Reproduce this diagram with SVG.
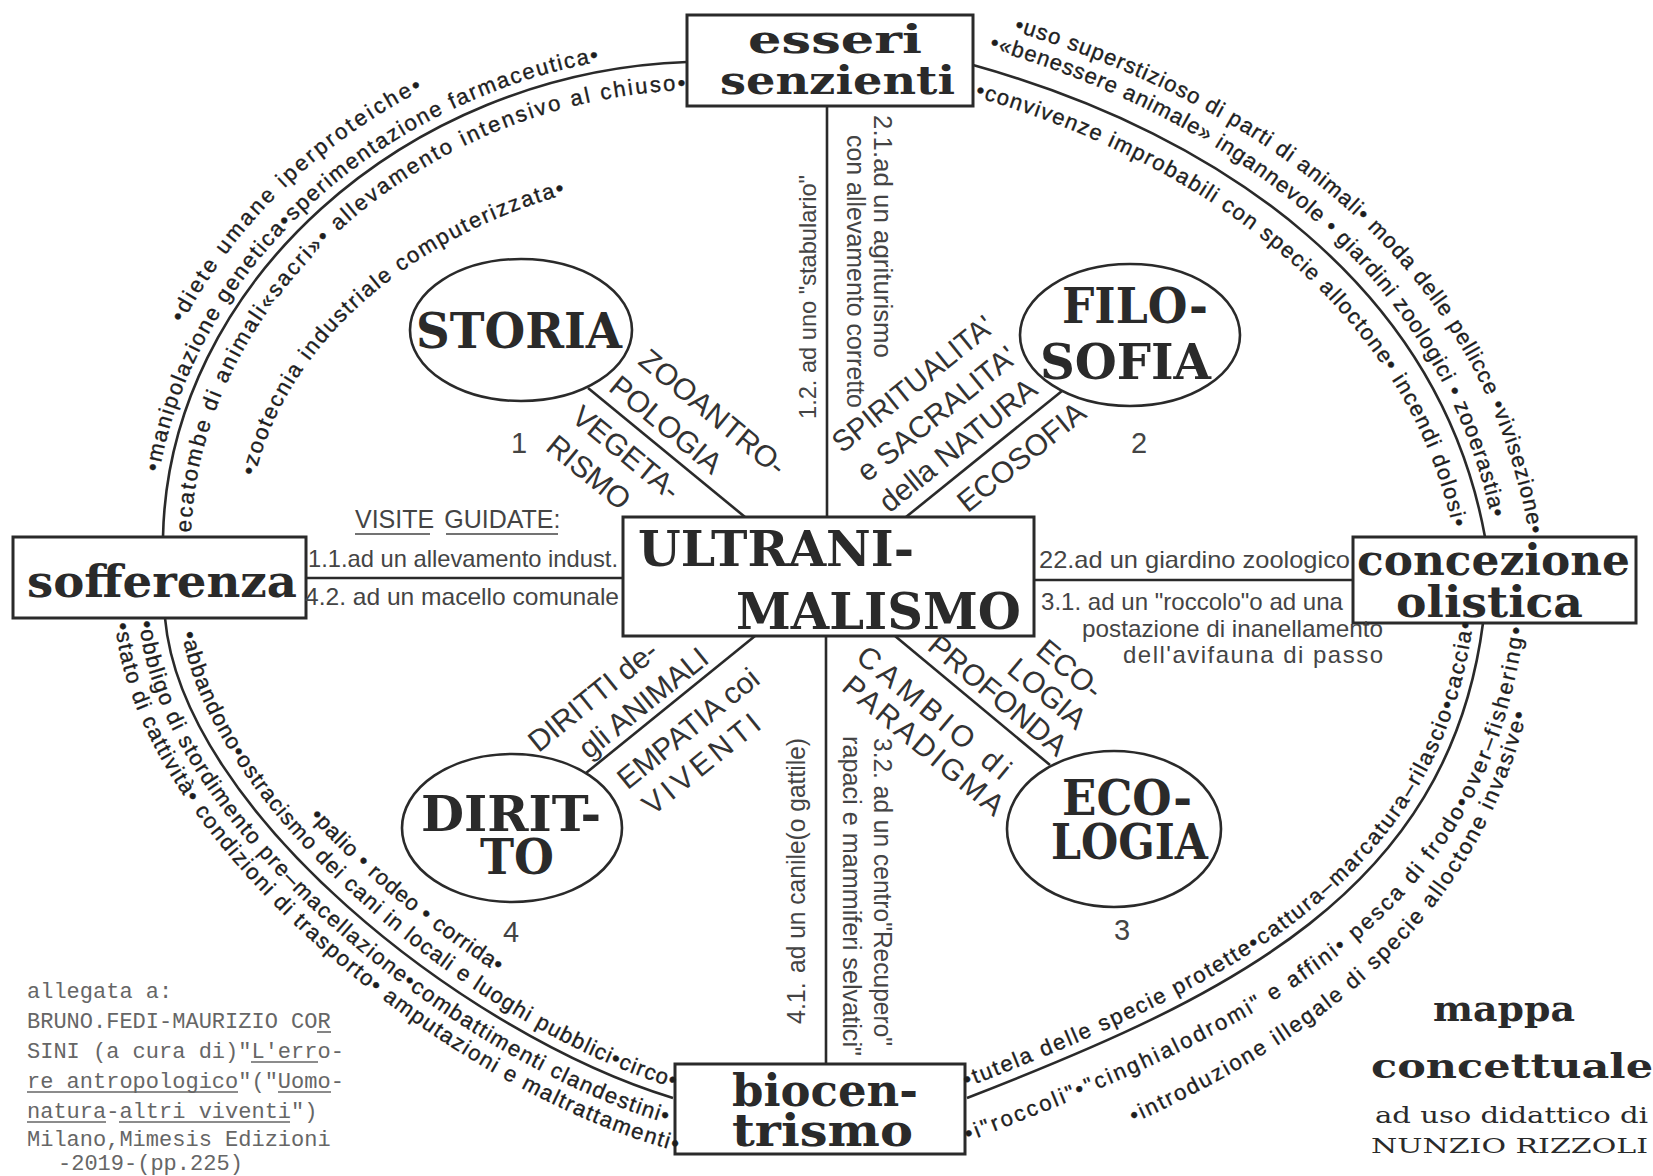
<svg xmlns="http://www.w3.org/2000/svg" width="1653" height="1176" viewBox="0 0 1653 1176">
<style>
.box{fill:#fff;stroke:#2a2a2a;stroke-width:3}
.ell{fill:#fff;stroke:#2a2a2a;stroke-width:2.6}
.ln{fill:none;stroke:#2a2a2a;stroke-width:2.6}
.bt{font-family:"DejaVu Serif",serif;font-weight:bold;fill:#2a2a2a}
.lab{font-family:"Liberation Sans",Arial,sans-serif;font-size:30px;fill:#333}
.vt{font-family:"Liberation Sans",Arial,sans-serif;font-size:25px;fill:#444}
.arc{font-family:"Liberation Sans",Arial,sans-serif;font-size:22px;fill:#1e1e1e;stroke:#1e1e1e;stroke-width:0.35}
.tw{font-family:"Liberation Mono","Courier New",monospace;font-size:22px;fill:#666}
.ul{stroke:#666;stroke-width:1.6}
.num{font-family:"Liberation Sans",Arial,sans-serif;font-size:29px;fill:#444;text-anchor:middle}
</style>
<defs>
<path id="pT1" d="M127,536.3 C132.5,261.6 378.2,32.9 685.6,22"/>
<path id="pT2" d="M153,536.8 C158.1,279.8 399,62.2 686.7,52"/>
<path id="pT3" d="M191,538.6 C195.7,300.7 421.8,99.4 688,90"/>
<path id="pT4" d="M247,538.7 C251.2,329 472.7,182.6 691,174.9"/>
<path id="pR1" d="M984.8,22.6 C1259,98.8 1479.3,260.4 1528.3,529.1 L1531,544"/>
<path id="pR2" d="M978.4,45.7 C1240.5,118.5 1448.9,283.3 1494.8,535.2 L1497,547"/>
<path id="pR3" d="M965,93.9 C1201.9,159.7 1413.2,310.2 1455.5,542.4"/>
<path id="pB1" d="M115.2,622.4 C133.9,833.6 429.7,1076.6 658.5,1145.9 L673,1150.3"/>
<path id="pB2" d="M139.1,620.3 C157,822.3 446.7,1056.6 665.5,1122.9 L680,1127.3"/>
<path id="pB3" d="M179.9,616.7 C196.4,802.9 472.1,1026.7 675.9,1088.4"/>
<path id="pB4" d="M202.8,614.7 C218.5,792.1 491.8,1003.4 684,1061.6"/>
<path id="pC1" d="M963.4,1088.7 C1218.2,989.7 1438.8,886.3 1473.1,621.7"/>
<path id="pC2" d="M963.2,1143.4 L981.8,1136.2 C1263.1,1026.9 1485.8,920.4 1523.7,628.3"/>
<path id="pC3" d="M998.9,1180 C1304.7,1061.2 1503.3,933.1 1542.5,630.7"/>
</defs>
<rect width="1653" height="1176" fill="#fff"/>

<g id="connectors">
<path class="ln" d="M163,537 C168,285 405,72 687,62"/>
<path class="ln" d="M973,65 C1225,135 1440,290 1485,537"/>
<path class="ln" d="M165,618 C182,810 465,1035 673,1098"/>
<path class="ln" d="M967,1098 C1227,997 1448,893 1483,623"/>
<line class="ln" x1="827" y1="106" x2="827" y2="517"/>
<line class="ln" x1="826" y1="636" x2="826" y2="1064"/>
<line class="ln" x1="306" y1="578" x2="623" y2="578"/>
<line class="ln" x1="1034" y1="580" x2="1353" y2="580"/>
<line class="ln" x1="588" y1="388" x2="745" y2="517"/>
<line class="ln" x1="1062" y1="391" x2="906" y2="517"/>
<line class="ln" x1="755" y1="636" x2="586" y2="773"/>
<line class="ln" x1="895" y1="636" x2="1050" y2="765"/>
</g>

<g id="node-esseri">
<rect class="box" x="687" y="15" width="286" height="91"/>
<text class="bt" font-size="40" x="748" y="53" textLength="174" lengthAdjust="spacingAndGlyphs">esseri</text>
<text class="bt" font-size="40" x="720" y="94" textLength="235" lengthAdjust="spacingAndGlyphs">senzienti</text>
</g>
<g id="node-sofferenza">
<rect class="box" x="13" y="537" width="293" height="81"/>
<text class="bt" font-size="44" x="27" y="597" textLength="270" lengthAdjust="spacingAndGlyphs">sofferenza</text>
</g>
<g id="node-concezione">
<rect class="box" x="1353" y="537" width="283" height="86"/>
<text class="bt" font-size="42" x="1357" y="575" textLength="273" lengthAdjust="spacingAndGlyphs">concezione</text>
<text class="bt" font-size="42" x="1396" y="617" textLength="187" lengthAdjust="spacingAndGlyphs">olistica</text>
</g>
<g id="node-biocentrismo">
<rect class="box" x="675" y="1064" width="290" height="90"/>
<text class="bt" font-size="44" x="732" y="1106" textLength="186" lengthAdjust="spacingAndGlyphs">biocen-</text>
<text class="bt" font-size="44" x="732" y="1146" textLength="181" lengthAdjust="spacingAndGlyphs">trismo</text>
</g>
<g id="node-ultranimalismo">
<rect class="box" x="623" y="517" width="411" height="119"/>
<text class="bt" font-size="48" x="638" y="566" textLength="276" lengthAdjust="spacingAndGlyphs">ULTRANI-</text>
<text class="bt" font-size="50" x="736" y="629" textLength="285" lengthAdjust="spacingAndGlyphs">MALISMO</text>
</g>
<g id="node-storia">
<ellipse class="ell" cx="521" cy="330" rx="111" ry="71"/>
<text class="bt" font-size="48" x="416" y="348" textLength="206" lengthAdjust="spacingAndGlyphs">STORIA</text>
</g>
<g id="node-filosofia">
<ellipse class="ell" cx="1130" cy="335" rx="110" ry="71"/>
<text class="bt" font-size="48" x="1062" y="323" textLength="146" lengthAdjust="spacingAndGlyphs">FILO-</text>
<text class="bt" font-size="48" x="1040" y="379" textLength="171" lengthAdjust="spacingAndGlyphs">SOFIA</text>
</g>
<g id="node-diritto">
<ellipse class="ell" cx="512" cy="828" rx="110" ry="74"/>
<text class="bt" font-size="48" x="421" y="831" textLength="180" lengthAdjust="spacingAndGlyphs">DIRIT-</text>
<text class="bt" font-size="48" x="480" y="874" textLength="74" lengthAdjust="spacingAndGlyphs">TO</text>
</g>
<g id="node-ecologia">
<ellipse class="ell" cx="1114" cy="829" rx="107" ry="78"/>
<text class="bt" font-size="48" x="1062" y="815" textLength="130" lengthAdjust="spacingAndGlyphs">ECO-</text>
<text class="bt" font-size="48" x="1051" y="859" textLength="157" lengthAdjust="spacingAndGlyphs">LOGIA</text>
</g>

<g id="ring-texts" class="arc">
<text><textPath href="#pT1" startOffset="222" textLength="340" lengthAdjust="spacing">•diete umane iperproteiche•</textPath></text>
<text><textPath href="#pT2" startOffset="65" textLength="639" lengthAdjust="spacing">•manipolazione genetica•sperimentazione farmaceutica•</textPath></text>
<text><textPath href="#pT3" startOffset="6" textLength="727" lengthAdjust="spacing">ecatombe di animali«sacri»• allevamento intensivo al chiuso•</textPath></text>
<text><textPath href="#pT4" startOffset="63" textLength="439" lengthAdjust="spacing">•zootecnia industriale computerizzata•</textPath></text>
<text><textPath href="#pR1" startOffset="30" textLength="761" lengthAdjust="spacing">•uso superstizioso di parti di animali• moda delle pellicce •vivisezione•</textPath></text>
<text><textPath href="#pR2" startOffset="11" textLength="723" lengthAdjust="spacing">•«benessere animale» ingannevole • giardini zoologici • zooerastia•</textPath></text>
<text><textPath href="#pR3" startOffset="10" textLength="676" lengthAdjust="spacing">•convivenze improbabili con specie alloctone• incendi dolosi•</textPath></text>
<text><textPath href="#pB1" startOffset="1" textLength="806" lengthAdjust="spacing">•stato di cattività• condizioni di trasporto• amputazioni e maltrattamenti•</textPath></text>
<text><textPath href="#pB2" startOffset="1" textLength="760" lengthAdjust="spacing">•obbligo di stordimento pre–macellazione•combattimenti clandestini•</textPath></text>
<text><textPath href="#pB3" startOffset="16" textLength="696" lengthAdjust="spacing">•abbandono•ostracismo dei cani in locali e luoghi pubblici•circo•</textPath></text>
<text><textPath href="#pB4" startOffset="232" textLength="245" lengthAdjust="spacing">•palio • rodeo • corrida•</textPath></text>
<text><textPath href="#pC1" startOffset="3" textLength="728" lengthAdjust="spacing">•tutela delle specie protette•cattura–marcatura–rilascio•caccia•</textPath></text>
<text><textPath href="#pC2" startOffset="5" textLength="803" lengthAdjust="spacing">•i"roccoli"•"cinghialodromi" e affini• pesca di frodo•over–fishering•</textPath></text>
<text><textPath href="#pC3" startOffset="146" textLength="590" lengthAdjust="spacing">•introduzione illegale di specie alloctone invasive•</textPath></text>
</g>

<g id="diagonal-labels" class="lab">
<g transform="translate(588,388) rotate(39.4)">
<text x="22" y="-50">ZOOANTRO-</text>
<text x="16" y="-11">POLOGIA</text>
<text x="6" y="36">VEGETA-</text>
<text x="5" y="75">RISMO</text>
</g>
<g transform="translate(906,517) rotate(-38.9)">
<text x="-11" y="-13">della NATURA</text>
<text x="-9" y="-51">e SACRALITA'</text>
<text x="-10" y="-89" textLength="198" lengthAdjust="spacingAndGlyphs">SPIRITUALITA'</text>
<text x="50" y="36">ECOSOFIA</text>
</g>
<g transform="translate(583,775) rotate(-38.9)">
<text x="-21" y="-45">DIRITTI de-</text>
<text x="14" y="-8">gli ANIMALI</text>
<text x="25" y="40">EMPATIA coi</text>
<text x="28" y="76" textLength="142" lengthAdjust="spacing">VIVENTI</text>
</g>
<g transform="translate(895,636) rotate(39.8)">
<text x="118" y="-76">ECO-</text>
<text x="108" y="-43">LOGIA</text>
<text x="32" y="-10">PROFONDA</text>
<text x="-16" y="44" textLength="190" lengthAdjust="spacing">CAMBIO di</text>
<text x="-8" y="76" textLength="200" lengthAdjust="spacing">PARADIGMA</text>
</g>
</g>

<g id="visit-labels" class="vt">
<text x="355" y="528"><tspan>VISITE</tspan><tspan dx="10">GUIDATE:</tspan></text>
<line class="ul" x1="355" y1="534" x2="430" y2="534" style="stroke:#444"/>
<line class="ul" x1="446" y1="534" x2="558" y2="534" style="stroke:#444"/>
<text x="308" y="567" font-size="24" textLength="310" lengthAdjust="spacingAndGlyphs">1.1.ad un allevamento indust.</text>
<text x="305" y="605" font-size="24" textLength="314" lengthAdjust="spacingAndGlyphs">4.2. ad un macello comunale</text>
<text x="1039" y="568" font-size="24" textLength="311" lengthAdjust="spacingAndGlyphs">22.ad un giardino zoologico</text>
<text x="1041" y="610" font-size="24" textLength="302" lengthAdjust="spacingAndGlyphs">3.1. ad un "roccolo"o ad una</text>
<text x="1082" y="637" font-size="24" textLength="301" lengthAdjust="spacingAndGlyphs">postazione di inanellamento</text>
<text x="1123" y="663" font-size="24" textLength="260" lengthAdjust="spacing">dell'avifauna di passo</text>
<text transform="translate(816,419) rotate(-90)" font-size="24" textLength="244" lengthAdjust="spacingAndGlyphs">1.2. ad uno "stabulario"</text>
<text transform="translate(874,115) rotate(90)" textLength="243" lengthAdjust="spacingAndGlyphs">2.1.ad un agriturismo</text>
<text transform="translate(847,135) rotate(90)" textLength="273" lengthAdjust="spacingAndGlyphs">con allevamento corretto</text>
<text transform="translate(805,1024) rotate(-90)">4.1.</text>
<text transform="translate(805,973) rotate(-90)" textLength="235" lengthAdjust="spacingAndGlyphs">ad un canile(o gattile)</text>
<text transform="translate(874,738) rotate(90)" textLength="308" lengthAdjust="spacingAndGlyphs">3.2. ad un centro"Recupero"</text>
<text transform="translate(843,736) rotate(90)" textLength="320" lengthAdjust="spacingAndGlyphs">rapaci e mammiferi selvatici"</text>
</g>

<g id="numbers">
<text class="num" x="519" y="453">1</text>
<text class="num" x="1139" y="453">2</text>
<text class="num" x="1122" y="940">3</text>
<text class="num" x="511" y="942">4</text>
</g>

<g id="title">
<text class="bt" font-size="36" x="1433" y="1021" textLength="142" lengthAdjust="spacingAndGlyphs">mappa</text>
<text class="bt" font-size="34" x="1371" y="1078" textLength="282" lengthAdjust="spacingAndGlyphs">concettuale</text>
<text class="bt" font-size="23" x="1375" y="1123" textLength="273" lengthAdjust="spacingAndGlyphs" style="font-weight:normal">ad uso didattico di</text>
<text class="bt" font-size="21" x="1371" y="1153" textLength="277" lengthAdjust="spacingAndGlyphs" style="font-weight:normal">NUNZIO RIZZOLI</text>
</g>

<g id="reference" class="tw">
<text x="27" y="998">allegata a:</text>
<text x="27" y="1028">BRUNO.FEDI-MAURIZIO COR</text>
<text x="27" y="1058">SINI (a cura di)"L'erro-</text>
<text x="27" y="1088">re antropologico"("Uomo-</text>
<text x="27" y="1118">natura-altri viventi")</text>
<text x="27" y="1146">Milano,Mimesis Edizioni</text>
<text x="58" y="1170">-2019-(pp.225)</text>
<line class="ul" x1="317" y1="1032" x2="331" y2="1032"/>
<line class="ul" x1="251" y1="1062" x2="318" y2="1062"/>
<line class="ul" x1="27" y1="1092" x2="238" y2="1092"/>
<line class="ul" x1="278" y1="1092" x2="331" y2="1092"/>
<line class="ul" x1="27" y1="1122" x2="106" y2="1122"/>
<line class="ul" x1="119" y1="1122" x2="290" y2="1122"/>
</g>
</svg>
